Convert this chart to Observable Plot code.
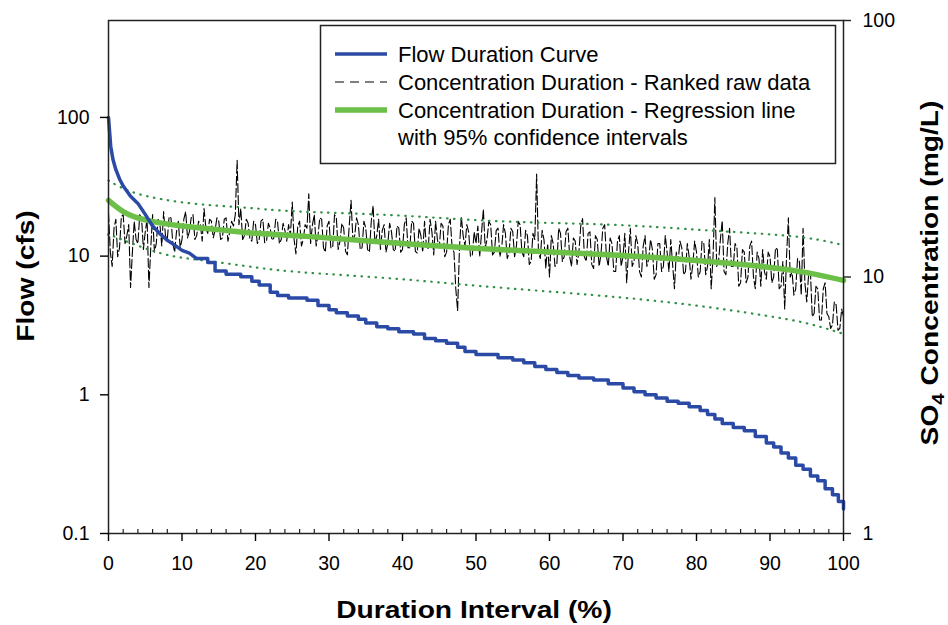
<!DOCTYPE html>
<html>
<head>
<meta charset="utf-8">
<script src="https://cdn.jsdelivr.net/npm/d3@7"></script>
<script src="https://cdn.jsdelivr.net/npm/@observablehq/plot@0.6"></script>
<style>
  html, body { margin: 0; padding: 0; background: white; }
  #wrap { position: relative; width: 948px; height: 625px; font-family: "Liberation Sans", Arial, sans-serif; }
  #overlay { position: absolute; left: 0; top: 0; pointer-events: none; }
</style>
</head>
<body>
<div id="wrap"></div>
<script>
// ---------- data ----------
const durationTicks = [0, 10, 20, 30, 40, 50, 60, 70, 80, 90, 100];
const minorTicks = [2,4,6,8,12,14,16,18,22,24,26,28,32,34,36,38,42,44,46,48,52,54,56,58,62,64,66,68,72,74,76,78,82,84,86,88,92,94,96,98];
const flowTicks = [0.1, 1, 10, 100];
const concTicks = [1, 10, 100];

// Flow duration curve (cfs): smooth head up to 12 %, stepped afterwards
const flowPct = [0, 0.3, 0.6, 1, 1.5, 2, 3, 4, 5, 6, 7, 8, 9, 10, 11, 12,
  13.5, 14.5, 16, 18, 19.5, 20.5, 22, 23, 24.5, 27, 28.5, 30, 31, 32.5, 34, 35, 36.5, 38, 39.5,
  41.5, 43, 44.5, 46, 47.5, 48.5, 50, 53, 55, 56.5, 58, 59.5, 61, 62.5, 64, 66, 68, 70, 71.5, 73,
  74.5, 76, 77.5, 79, 80.5, 81.5, 82.5, 83.5, 85, 86.5, 88, 89.5, 90.5, 91.5, 92.5, 93.5, 94.5,
  95.5, 96.5, 97.5, 98.5, 99.3, 100];
const flowCfs = [100, 62, 50, 42, 36, 32, 27, 24, 20, 16.5, 14.5, 13, 12, 11, 10.5, 9.6,
  9.0, 7.8, 7.4, 7.1, 6.6, 6.2, 5.5, 5.2, 5.0, 4.8, 4.4, 4.1, 3.9, 3.7, 3.5, 3.3, 3.1, 3.0, 2.85,
  2.75, 2.55, 2.45, 2.35, 2.2, 2.05, 1.95, 1.85, 1.78, 1.7, 1.6, 1.52, 1.45, 1.38, 1.32, 1.28, 1.2, 1.12, 1.05, 1.0,
  0.95, 0.9, 0.87, 0.82, 0.77, 0.72, 0.67, 0.62, 0.58, 0.55, 0.5, 0.45, 0.42, 0.38, 0.35, 0.31, 0.29,
  0.26, 0.24, 0.21, 0.19, 0.17, 0.15];
const flowStepStart = 12;

// Concentration duration - ranked raw data (mg/L), every 0.25 %
const rawConc = [
  17.8, 12.5, 11.0, 15.5, 16.8, 12.0, 13.0, 17.2, 17.5, 13.5,
  14.5, 16.0, 9.1, 12.5, 16.5, 14.0, 13.5, 17.5, 17.0, 12.8,
  15.0, 16.8, 9.1, 13.0, 17.5, 12.5, 13.5, 16.8, 16.0, 13.2,
  18.0, 14.5, 14.0, 17.2, 17.0, 13.5, 12.5, 15.0, 16.5, 13.0,
  14.0, 16.8, 18.0, 14.2, 15.0, 17.0, 17.5, 14.0, 14.5, 16.5,
  16.0, 13.8, 18.5, 15.5, 14.8, 16.8, 16.5, 14.2, 15.2, 17.0,
  16.5, 14.0, 14.2, 16.8, 17.0, 13.8, 15.0, 16.5, 15.8, 17.5,
  28.5, 16.0, 18.5, 14.0, 14.5, 16.8, 16.2, 14.0, 13.8, 16.5,
  16.0, 13.5, 14.0, 16.5, 16.8, 13.6, 13.8, 16.2, 15.5, 13.9,
  14.2, 16.8, 16.5, 13.5, 14.0, 16.2, 15.2, 13.8, 16.0, 14.5,
  19.6, 14.0, 12.3, 15.8, 16.5, 13.2, 14.0, 16.0, 15.5, 21.1,
  13.5, 16.0, 17.5, 13.2, 14.5, 17.0, 16.8, 13.0, 12.5, 15.8,
  16.5, 13.0, 13.0, 17.5, 17.0, 12.8, 13.8, 16.2, 15.5, 12.6,
  12.2, 15.8, 19.9, 14.0, 14.5, 17.0, 16.0, 12.8, 13.0, 16.5,
  15.5, 12.8, 12.5, 16.5, 19.0, 13.5, 14.5, 16.8, 12.8, 15.2,
  16.0, 12.5, 13.5, 16.2, 15.0, 12.8, 12.6, 15.8, 15.5, 12.5,
  12.8, 16.0, 17.0, 13.0, 13.0, 16.5, 16.2, 12.6, 12.4, 15.5,
  14.5, 12.5, 16.5, 13.2, 12.9, 16.8, 15.0, 12.2, 16.5, 14.0,
  13.0, 16.2, 15.8, 12.0, 12.5, 16.0, 16.8, 13.0, 12.5, 9.0,
  7.4, 13.0, 17.2, 14.5, 13.2, 16.0, 15.0, 12.0, 12.2, 15.0,
  13.5, 15.8, 12.0, 14.8, 18.4, 13.0, 14.0, 16.5, 16.0, 12.2,
  12.5, 15.2, 15.5, 12.0, 13.0, 16.0, 14.8, 11.8, 12.4, 15.5,
  15.0, 12.0, 13.2, 16.5, 16.0, 12.5, 12.0, 15.2, 14.5, 11.2,
  11.5, 14.8, 14.0, 25.2, 12.5, 11.8, 15.2, 14.0, 10.8, 13.5,
  10.0, 14.5, 13.5, 11.0, 11.2, 15.5, 14.8, 11.5, 12.0, 15.0,
  15.5, 12.0, 11.0, 14.2, 13.8, 11.2, 12.5, 15.8, 16.9, 12.0,
  11.5, 14.8, 15.0, 11.2, 10.8, 14.5, 14.0, 11.0, 12.2, 15.5,
  16.0, 12.0, 11.0, 14.2, 13.5, 10.5, 10.5, 13.8, 14.5, 11.0,
  12.0, 14.8, 9.5, 12.5, 15.5, 11.0, 11.5, 14.5, 13.5, 10.5,
  10.0, 13.2, 14.5, 11.0, 11.8, 14.0, 12.8, 9.8, 10.2, 13.5,
  13.5, 10.5, 11.0, 14.5, 12.5, 10.5, 14.0, 11.2, 9.0, 12.5,
  11.5, 13.8, 13.0, 10.2, 10.5, 13.5, 12.0, 9.8, 11.2, 13.8,
  12.5, 10.0, 10.5, 13.8, 13.5, 10.2, 11.0, 14.0, 9.0, 12.0,
  20.4, 11.0, 11.5, 14.0, 16.6, 10.5, 10.2, 13.5, 15.5, 11.0,
  11.0, 13.5, 13.0, 9.2, 9.5, 12.8, 12.5, 9.5, 10.0, 13.2,
  13.8, 10.0, 9.0, 12.5, 11.8, 9.2, 12.8, 10.5, 9.8, 12.5,
  12.0, 9.5, 10.0, 13.0, 12.8, 9.0, 9.2, 11.5, 7.5, 12.0,
  17.0, 10.0, 10.5, 8.5, 9.0, 11.8, 11.5, 8.5, 15.5, 9.5,
  8.0, 10.2, 10.5, 7.0, 7.2, 9.2, 9.0, 6.8, 6.8, 9.0,
  9.5, 7.2, 7.0, 6.3, 6.5, 8.0, 7.8, 6.2, 6.3, 7.5,
  7.0
];
const rawStep = 0.25; // % between ranked values

// Regression line and 95% confidence intervals (mg/L)
const regPct = [0, 2, 5, 10, 15, 20, 27, 40, 53, 66, 80, 90, 95, 100];
const regConc = [19.9, 18.0, 16.7, 15.8, 15.3, 14.8, 14.4, 13.5, 12.8, 12.3, 11.6, 10.9, 10.4, 9.7];
const upperPct = [0, 4, 11, 18, 26, 39, 53, 68, 80, 88, 95, 100];
const upperConc = [23.8, 21.1, 19.4, 18.7, 18.0, 17.4, 16.5, 16.0, 15.3, 14.8, 14.2, 13.3];
const lowerPct = [0, 1, 7, 13, 20, 27, 39, 51, 66, 79, 89, 95, 100];
const lowerConc = [14.6, 14.3, 12.4, 11.6, 10.9, 10.4, 9.85, 9.2, 8.5, 7.8, 7.1, 6.6, 6.0];

// ---------- scales ----------
const flowDomain = [0.1, 500];
const concDomain = [1, 100];
const span = Math.log10(flowDomain[1] / flowDomain[0]);
const concSpan = Math.log10(concDomain[1] / concDomain[0]);
// map a concentration onto the flow (left) log axis so both share the frame
const toFlow = c => flowDomain[0] * Math.pow(10, Math.log10(c / concDomain[0]) / concSpan * span);

const rawData = rawConc.map((c, i) => ({ x: i * rawStep, c }));
const zip = (xs, ys) => xs.map((x, i) => ({ x, v: ys[i] }));
const flowData = zip(flowPct, flowCfs);

const blue = "#2b4aa6";
const green = "#6cbf47";
const dotGreen = "#2f8f45";
const plotW = 948 - 108 - 105;

const chart = Plot.plot({
  width: 948,
  height: 625,
  marginLeft: 108,
  marginRight: 105,
  marginTop: 20,
  marginBottom: 92,
  style: { fontFamily: "'Liberation Sans', Arial, sans-serif", fontSize: "19.5px", color: "black", background: "white", overflow: "visible" },
  x: { domain: [0, 100] },
  y: { type: "log", domain: flowDomain },
  marks: [
    Plot.line(rawData, { x: "x", y: d => toFlow(d.c), stroke: "black", strokeWidth: 1.1, strokeDasharray: "9,3" }),
    Plot.line(zip(upperPct, upperConc), { x: "x", y: d => toFlow(d.v), stroke: dotGreen, strokeWidth: 2.2, strokeLinecap: "round", strokeDasharray: "0.5,6.5", curve: "natural" }),
    Plot.line(zip(lowerPct, lowerConc), { x: "x", y: d => toFlow(d.v), stroke: dotGreen, strokeWidth: 2.2, strokeLinecap: "round", strokeDasharray: "0.5,6.5", curve: "natural" }),
    Plot.line(zip(regPct, regConc), { x: "x", y: d => toFlow(d.v), stroke: green, strokeWidth: 5.5, curve: "natural" }),
    Plot.line(flowData.filter(d => d.x <= flowStepStart), { x: "x", y: "v", stroke: blue, strokeWidth: 3.5 }),
    Plot.line(flowData.filter(d => d.x >= flowStepStart), { x: "x", y: "v", stroke: blue, strokeWidth: 3.5, curve: "step-after" }),
    Plot.frame({ stroke: "#222", strokeWidth: 1.5 }),
    Plot.tickX(minorTicks, { x: d => d, insetTop: 509, stroke: "#222", strokeWidth: 1.2 }),
    Plot.axisX({ ticks: durationTicks, tickSize: 8, tickPadding: 15, label: null, strokeWidth: 1.4, tickFormat: d => String(d) }),
    Plot.axisY({ anchor: "left", ticks: flowTicks, tickSize: 8, tickPadding: 11, label: null, strokeWidth: 1.4, tickFormat: d => String(d) }),
    // right-hand SO4 axis (concentration ticks placed through the shared log scale)
    Plot.tickY(concTicks, { y: d => toFlow(d), insetLeft: plotW - 8, dx: 8, stroke: "#222", strokeWidth: 1.4 }),
    Plot.text(concTicks, { y: d => toFlow(d), text: d => String(d), frameAnchor: "right", dx: 19, textAnchor: "start", fill: "black" })
  ]
});

const wrap = document.getElementById("wrap");
wrap.appendChild(chart);

// ---------- legend and axis titles (overlay) ----------
const ns = "http://www.w3.org/2000/svg";
const ov = document.createElementNS(ns, "svg");
ov.setAttribute("id", "overlay");
ov.setAttribute("width", 948);
ov.setAttribute("height", 625);
ov.innerHTML = `
  <g font-family="'Liberation Sans', Arial, sans-serif" fill="black">
    <rect x="320.5" y="25.5" width="515" height="138" fill="white" stroke="#222" stroke-width="1.5"/>
    <line x1="335" x2="387" y1="54" y2="54" stroke="${blue}" stroke-width="3.5"/>
    <line x1="335" x2="387" y1="82" y2="82" stroke="black" stroke-width="1.2" stroke-dasharray="9,6"/>
    <line x1="335" x2="387" y1="110" y2="110" stroke="${green}" stroke-width="5.5"/>
    <g font-size="22px">
      <text x="398" y="62">Flow Duration Curve</text>
      <text x="398" y="90">Concentration Duration - Ranked raw data</text>
      <text x="398" y="118">Concentration Duration - Regression line</text>
      <text x="398" y="145">with 95% confidence intervals</text>
    </g>
    <g font-weight="bold" font-size="23.5px" text-anchor="middle">
      <text transform="translate(34,276) rotate(-90) scale(1.2,1)">Flow (cfs)</text>
      <text transform="translate(938,273) rotate(-90) scale(1.2,1)">SO<tspan font-size="17px" dy="6">4</tspan><tspan dy="-6"> Concentration (mg/L)</tspan></text>
      <text transform="translate(474,618) scale(1.2,1)">Duration Interval (%)</text>
    </g>
  </g>`;
wrap.appendChild(ov);
</script>
</body>
</html>
